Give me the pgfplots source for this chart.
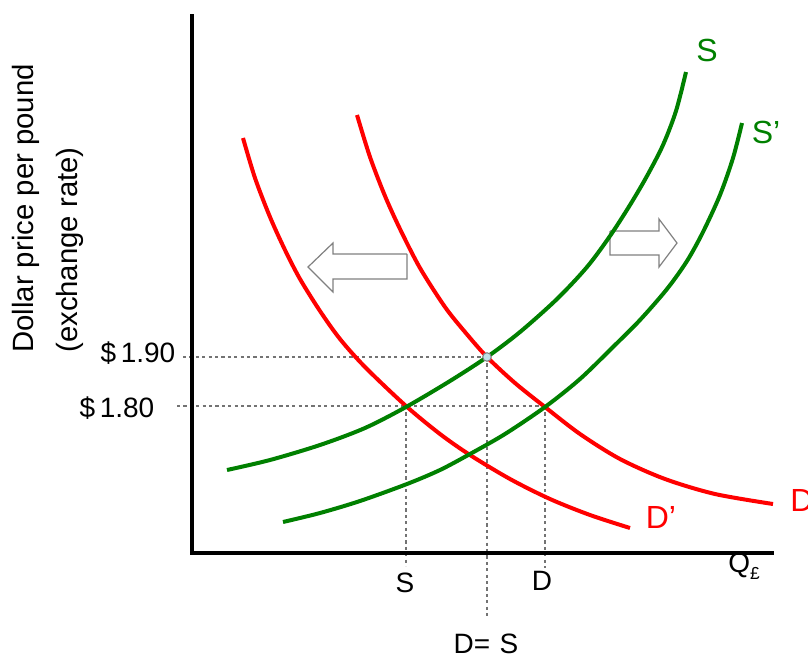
\documentclass[border=0pt]{standalone}
\usepackage{pgfplots}
\pgfplotsset{compat=1.18}
\usepackage{fontspec}
\setmainfont{Liberation Sans}
\definecolor{dgreen}{RGB}{0,128,0}
\definecolor{dashgray}{RGB}{115,115,115}
\definecolor{eqfill}{RGB}{190,225,232}
\tikzset{
  guide/.style    = {dashgray, line width=1.1pt, dash pattern=on 2.4pt off 2.4pt},
  lbl/.style      = {font=\fontsize{21}{21}\selectfont},
  ylbl/.style     = {font=\fontsize{22}{22}\selectfont},
  clbl/.style     = {font=\fontsize{24}{24}\selectfont},
  shiftarrow/.style = {draw=gray, fill=white, line width=0.9pt}
}

\begin{document}
\begin{tikzpicture}
  \useasboundingbox (0,0) rectangle (606pt,493.5pt);
  % axis in pixel units of the 808x658 picture, y measured downwards
  \begin{axis}[
      scale only axis,
      width=606pt, height=493.5pt,
      xmin=0, xmax=808, ymin=0, ymax=658,
      y dir=reverse,
      hide axis,
      clip=false,
  ]

  %% shift arrows
  \addplot[shiftarrow] coordinates {
      (407,254) (333,254) (333,243) (308,267) (333,292) (333,279) (407,279) (407,254)
  };
  \addplot[shiftarrow] coordinates {
      (610,231) (659,231) (659,219) (677,243) (659,267) (659,255) (610,255) (610,231)
  };

  %% guide lines
  \addplot[guide] coordinates {(183,357) (487,357)};
  \addplot[guide] coordinates {(177,406) (545,406)};
  \addplot[guide] coordinates {(406,406) (406,566)};
  \addplot[guide] coordinates {(487,357) (487,618)};
  \addplot[guide] coordinates {(545,406) (545,568)};

  %% demand D
  \addplot[smooth, line width=3pt, red] coordinates {
      (357,115) (370,157) (385,196) (400,229) (420,268) (445,307)
      (465,332) (487,357) (515,383) (545,407) (580,434) (620,459)
      (665,479) (715,494) (773,504)
  };
  %% demand D'
  \addplot[smooth, line width=3pt, red] coordinates {
      (243,138) (255,178) (270,217) (285,250) (300,279) (320,311)
      (340,339) (365,367) (406,406) (440,434) (470,455) (510,479)
      (550,499) (590,515) (630,528)
  };

  %% supply S
  \addplot[smooth, line width=3pt, dgreen] coordinates {
      (227,470) (270,460) (320,445) (365,428) (406,407) (450,381)
      (487,357) (520,332) (557,299) (587,267) (610,236) (630,205)
      (647,176) (663,145) (676,111) (686,72)
  };
  %% supply S'
  \addplot[smooth, line width=3pt, dgreen] coordinates {
      (283,522) (320,513) (360,501) (407,484) (440,470) (470,454)
      (505,434) (545,407) (580,379) (613,347) (640,320) (667,289)
      (687,261) (703,232) (720,195) (733,158) (742,123)
  };

  %% axes
  \addplot[black, line width=2.3pt] coordinates {(192,14) (192,553) (774,553)};

  %% equilibrium point
  \addplot[only marks, mark=*, mark size=3.2pt,
           mark options={fill=eqfill, draw=gray, line width=0.8pt}]
      coordinates {(487,357)};

  %% labels
  \node[lbl, anchor=east] at (axis cs:180,353) {\$\,1.90};
  \node[lbl, anchor=east] at (axis cs:159,408) {\$\,1.80};
  \node[lbl] at (axis cs:405,583) {S};
  \node[lbl] at (axis cs:542,581) {D};
  \node[lbl] at (axis cs:486,644) {D=\,\,S};
  \node[lbl, anchor=west, inner sep=0pt] at (axis cs:728,566)
      {Q\raisebox{-5pt}{\fontsize{13}{13}\selectfont £}};
  \node[ylbl, rotate=90, anchor=base west, inner sep=0pt] at (axis cs:33,353)
      {Dollar price per pound};
  \node[ylbl, rotate=90, anchor=base west, inner sep=0pt] at (axis cs:77,353)
      {(exchange rate)};
  \node[clbl, text=dgreen] at (axis cs:707,50) {S};
  \node[clbl, text=dgreen] at (axis cs:766,132) {S’};
  \node[clbl, text=red] at (axis cs:661,517) {D’};
  \node[clbl, text=red, anchor=west, inner sep=0pt] at (axis cs:790,500) {D};

  \end{axis}
\end{tikzpicture}
\end{document}
